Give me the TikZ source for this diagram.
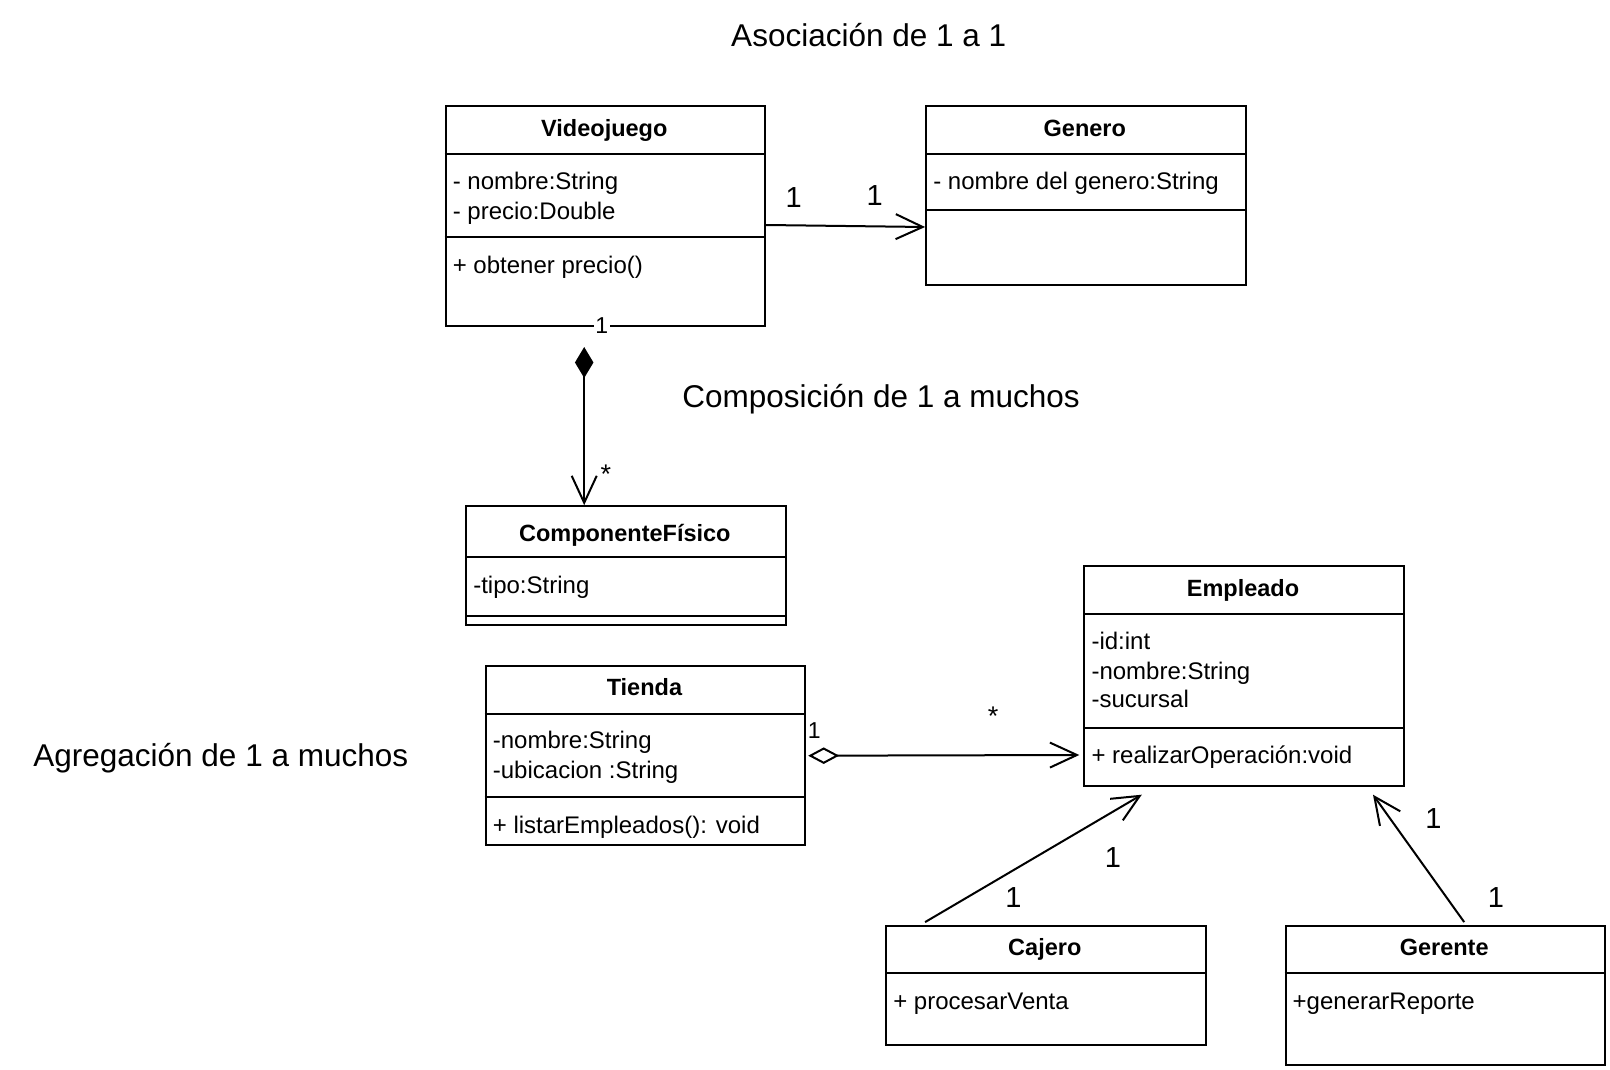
\documentclass[tikz,border=0pt]{standalone}
\usepackage{fontspec}
\setmainfont{Liberation Sans}
\usetikzlibrary{arrows.meta,calc}
\newcommand\umlsep[2]{\draw[sep] (#1.west |- 0,#2) -- (#1.east |- 0,#2);}
\begin{document}
\begin{tikzpicture}[x=1pt,y=-1pt,
  box/.style={draw, line width=2pt, inner sep=0pt, anchor=north west, minimum width=319.5pt},
  sep/.style={line width=2pt},
  hdr/.style={font=\fontsize{23.5}{28}\selectfont\bfseries, inner sep=0pt, text height=0.7em, text depth=0.1em, yshift=-5pt},
  attr/.style={font=\fontsize{24}{28}\selectfont, inner sep=0pt, anchor=west, text height=0.7em, text depth=0.1em, yshift=-5.5pt},
  ttl/.style={font=\fontsize{31.5}{36}\selectfont, inner sep=0pt, text height=0.7em, text depth=0.1em, yshift=-8pt},
  big/.style={font=\fontsize{29}{34}\selectfont, inner sep=0pt, yshift=-2pt},
  sml/.style={font=\fontsize{23}{26}\selectfont, inner sep=0pt},
  star/.style={font=\fontsize{27}{30}\selectfont, inner sep=0pt},
  conn/.style={line width=2pt},
  openarr/.style={-{Straight Barb[length=27pt,width=25pt]}},
]
\useasboundingbox[fill=white] (0,0) rectangle (1610,1070);

% titles
\node[ttl] (t1) at (868.7,36) {Asociación de 1 a 1};
\node[ttl] (t2) at (881,396.3) {Composición de 1 a muchos};
\node[ttl] (t3) at (220.8,755.7) {Agregación de 1 a muchos};

% Videojuego
\node[box, minimum height=219.8pt] (vj) at (444.6,104.7) {};
\umlsep{vj}{154}
\umlsep{vj}{237.2}
\node[hdr] (vjh) at (604.3,129) {Videojuego};
\node[attr] (vja1) at (452.6,180.7) {- nombre:String};
\node[attr] (vja2) at (452.6,210.5) {- precio:Double};
\node[attr] (vjm1) at (452.6,264.9) {+ obtener precio()};

% Genero
\node[box, minimum height=179.7pt] (gen) at (925.1,104.7) {};
\umlsep{gen}{154}
\umlsep{gen}{209.5}
\node[hdr] (genh) at (1084.8,129) {Genero};
\node[attr] (gena1) at (933.1,180.7) {- nombre del genero:String};

% ComponenteFisico
\node[box, minimum height=119.1pt] (cf) at (465.1,505.2) {};
\umlsep{cf}{556.5}
\umlsep{cf}{616.1}
\node[hdr] (cfh) at (624.8,533) {ComponenteFísico};
\node[attr] (cfa1) at (473.1,585.3) {-tipo:String};

% Tienda
\node[box, minimum height=178.6pt] (tie) at (484.7,665.4) {};
\umlsep{tie}{713.6}
\umlsep{tie}{796.8}
\node[hdr] (tieh) at (644.4,687) {Tienda};
\node[attr] (tiea1) at (492.7,740.3) {-nombre:String};
\node[attr] (tiea2) at (492.7,770.1) {-ubicacion :String};
\node[attr] (tiem1) at (492.7,824.5) {+ listarEmpleados(): void};

% Empleado
\node[box, minimum height=219.8pt] (emp) at (1083.3,564.7) {};
\umlsep{emp}{614}
\umlsep{emp}{728}
\node[hdr] (emph) at (1243,588) {Empleado};
\node[attr] (empa1) at (1091.3,640.7) {-id:int};
\node[attr] (empa2) at (1091.3,670.5) {-nombre:String};
\node[attr] (empa3) at (1091.3,699.3) {-sucursal};
\node[attr] (empm1) at (1091.3,754.7) {+ realizarOperación:void};

% Cajero
\node[box, minimum height=119.1pt] (caj) at (885.1,925.2) {};
\umlsep{caj}{973.4}
\node[hdr] (cajh) at (1044.8,947) {Cajero};
\node[attr] (cajm1) at (893.1,1001.1) {+ procesarVenta};

% Gerente
\node[box, minimum height=138.6pt] (ger) at (1284.5,925.2) {};
\umlsep{ger}{973.4}
\node[hdr] (gerh) at (1444.2,947) {Gerente};
\node[attr] (germ1) at (1292.5,1001.1) {+generarReporte};

% association Videojuego -> Genero
\draw[conn, openarr] (vj.east |- 0,225) -- (gen.west |- 0,227);
\node[big] (l1) at (793.7,196) {1};
\node[big] (l2) at (874.8,194) {1};

% composition Videojuego -> ComponenteFisico
\node[sml, fill=white, inner sep=1.5pt] (l3) at (601.7,326) {1};
\coordinate (cst) at (584.2,347);
\draw[conn, {Diamond[length=31pt,width=18.5pt]}-{Straight Barb[length=27pt,width=25pt]}] (cst) -- (cst |- cf.north);
\node[star] (l4) at (605.8,474) {*};

% aggregation Tienda -> Empleado
\draw[conn, {Diamond[open,length=31pt,width=16.5pt]}-{Straight Barb[length=27pt,width=25pt]}] ($(tie.east |- 0,755.7)+(2,0)$) -- ($(emp.west |- 0,755)+(-4,0)$);
\node[sml] (l5) at (814.2,731) {1};
\node[star] (l6) at (993,716) {*};

% Cajero -> Empleado
\draw[conn, openarr] ($(caj.north west)+(40,-3.1)$) -- ($(emp.south west)+(58.5,8.2)$);
\node[big] (l7) at (1013.4,895.4) {1};
\node[big] (l8) at (1113,855.3) {1};

% Gerente -> Empleado
\draw[conn, openarr] ($(ger.north west)+(179.7,-3.1)$) -- ($(emp.south east)+(-31.8,8.2)$);
\node[big] (l9) at (1496,895.4) {1};
\node[big] (l10) at (1433.4,816.3) {1};
\end{tikzpicture}
\end{document}
